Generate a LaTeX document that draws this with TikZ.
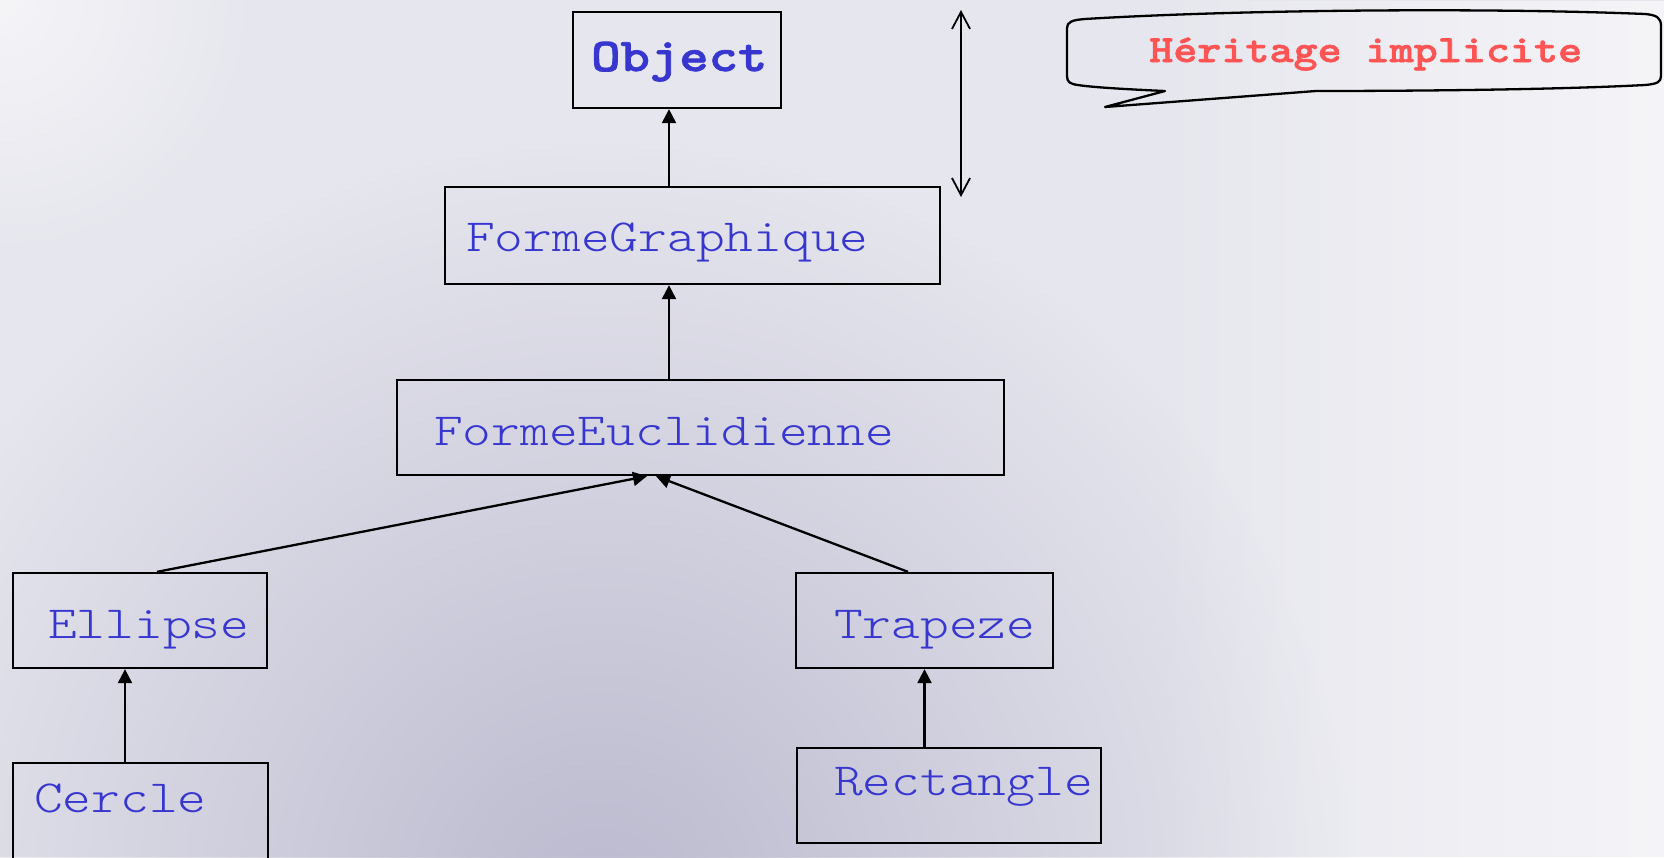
\documentclass[tikz,border=0pt]{standalone}
\usepackage{fontspec}
\newfontfamily\cour{lmmonolt10-regular.otf}[BoldFont=lmmonolt10-bold.otf, FakeStretch=1.19, BoldFeatures={FakeBold=1.6}]
\usetikzlibrary{arrows.meta,fadings}
\definecolor{bgbase}{HTML}{E6E6EE}
\definecolor{bgdark}{HTML}{BBBACF}
\definecolor{clsblue}{HTML}{3737D0}
\definecolor{notered}{HTML}{FF5454}
\tikzfading[name=radfade, inner color=transparent!0, outer color=transparent!100]
\tikzfading[name=rightfade, left color=transparent!100, right color=transparent!0]
\tikzset{
  box/.style={draw=black, line width=2.3pt, inner sep=0pt, fill=none},
  lbl/.style={anchor=base west, inner sep=0pt, text=clsblue, font=\cour\fontsize{46}{54}\selectfont},
  inh/.style={line width=2.3pt, -{Triangle[length=14pt,width=14pt]}},
  dbl/.style={line width=1.8pt, {Straight Barb[length=17pt,width=18pt]}-{Straight Barb[length=17pt,width=18pt]}}
}
\begin{document}
\begin{tikzpicture}[x=1pt,y=-1pt]
\clip (0,0) rectangle (1664,857);
\useasboundingbox (0,0) rectangle (1664,857);
% background
\fill[bgbase] (0,0) rectangle (1664,857);
\fill[bgdark, path fading=radfade] (600,900) circle (760);
\fill[white, path fading=radfade, opacity=0.6] (0,0) circle (260);
\fill[white, path fading=rightfade, opacity=0.6] (1150,0) rectangle (1664,857);
% boxes
\node[box, minimum width=208pt, minimum height=96pt] (obj) at (677,60) {};
\node[box, minimum width=495pt, minimum height=97pt] (fg) at (692.5,235.5) {};
\node[box, minimum width=607pt, minimum height=95pt] (fe) at (700.5,427.5) {};
\node[box, minimum width=254pt, minimum height=95pt] (ell) at (140,620.5) {};
\node[box, minimum width=257pt, minimum height=95pt] (trap) at (924.5,620.5) {};
\node[box, minimum width=255pt, minimum height=150pt] (cer) at (140.5,838) {};
\node[box, minimum width=304pt, minimum height=95pt] (rect) at (949,795.5) {};
% texts
\node[lbl, font=\cour\bfseries\fontsize{47}{54}\selectfont] (tobj) at (591,71) {Object};
\node[lbl] (tfg) at (466,251) {FormeGraphique};
\node[lbl] (tfe) at (434,445) {FormeEuclidienne};
\node[lbl] (tell) at (48,638) {Ellipse};
\node[lbl] (ttrap) at (834,638) {Trapeze};
\node[lbl] (tcer) at (34,812) {Cercle};
\node[lbl] (trect) at (834,795) {Rectangle};
% connectors
\coordinate (j1) at (669,0);
\coordinate (j2) at (157,0);
\coordinate (j3) at (908,0);
\coordinate (j4) at (125,0);
\coordinate (h1) at (647,0);
\coordinate (h2) at (656,0);
\draw[inh] (fg.north -| j1) -- (obj.south -| j1);
\draw[inh] (fe.north -| j1) -- (fg.south -| j1);
\draw[inh] (ell.north -| j2) -- (fe.south -| h1);
\draw[inh] (trap.north -| j3) -- (fe.south -| h2);
\draw[inh] (cer.north -| j4) -- (ell.south -| j4);
\draw[inh] (rect.north -| trap.south) -- (trap.south);
% double arrow
\coordinate (da) at (961,10);
\coordinate (db) at (961,197);
\draw[dbl] (da) -- (db);
% callout
\draw[line width=2.3pt, line join=round]
  (1067,28) .. controls (1067,22) and (1072,20) .. (1085,19)
  .. controls (1250,9) and (1500,8) .. (1645,14)
  .. controls (1657,15) and (1661,18) .. (1661,26)
  -- (1661,76)
  .. controls (1661,82) and (1657,84) .. (1645,85)
  .. controls (1550,90) and (1400,91) .. (1316,91)
  -- (1105,107) -- (1165,91)
  .. controls (1120,89) and (1090,87) .. (1078,85)
  .. controls (1070,84) and (1067,82) .. (1067,76)
  -- cycle;
\node[anchor=base west, inner sep=0pt, text=notered, font=\cour\bfseries\fontsize{38.5}{44}\selectfont] (note) at (1149,62) {Héritage implicite};
\end{tikzpicture}
\end{document}
